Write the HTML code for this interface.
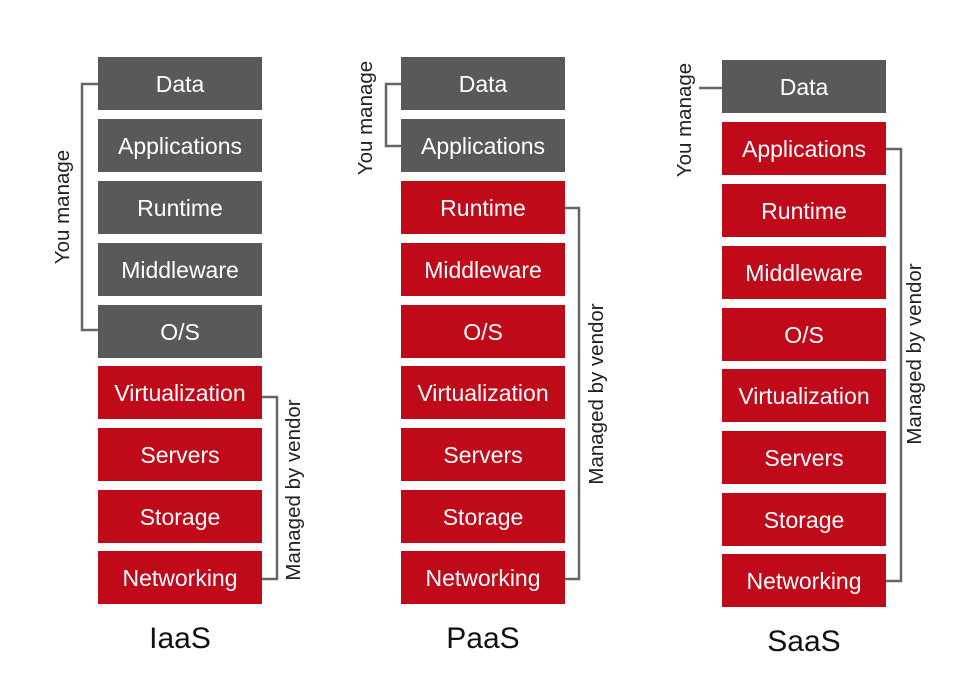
<!DOCTYPE html>
<html><head><meta charset="utf-8"><style>
html,body{margin:0;padding:0;background:#fff;}
svg{display:block;}
text{font-family:"Liberation Sans",sans-serif;}
.b text{fill:#fff;font-size:23px;text-anchor:middle;}
.g{fill:#595959;} .r{fill:#c00a1a;}
.l{fill:none;stroke:#666;stroke-width:2.5;}
.lab{fill:#222;font-size:20.5px;text-anchor:middle;}
.t{fill:#111;font-size:30px;text-anchor:middle;}
</style></head><body>
<svg width="966" height="674" viewBox="0 0 966 674">
<g class="b">
<rect class="g" x="98" y="57" width="164" height="53"/><text x="180" y="92">Data</text>
<rect class="g" x="98" y="119" width="164" height="53"/><text x="180" y="154">Applications</text>
<rect class="g" x="98" y="181" width="164" height="53"/><text x="180" y="216">Runtime</text>
<rect class="g" x="98" y="243" width="164" height="53"/><text x="180" y="278">Middleware</text>
<rect class="g" x="98" y="305" width="164" height="53"/><text x="180" y="340">O/S</text>
<rect class="r" x="98" y="366" width="164" height="53"/><text x="180" y="401">Virtualization</text>
<rect class="r" x="98" y="428" width="164" height="53"/><text x="180" y="463">Servers</text>
<rect class="r" x="98" y="490" width="164" height="53"/><text x="180" y="525">Storage</text>
<rect class="r" x="98" y="551" width="164" height="53"/><text x="180" y="586">Networking</text>
<rect class="g" x="401" y="57" width="164" height="53"/><text x="483" y="92">Data</text>
<rect class="g" x="401" y="119" width="164" height="53"/><text x="483" y="154">Applications</text>
<rect class="r" x="401" y="181" width="164" height="53"/><text x="483" y="216">Runtime</text>
<rect class="r" x="401" y="243" width="164" height="53"/><text x="483" y="278">Middleware</text>
<rect class="r" x="401" y="305" width="164" height="53"/><text x="483" y="340">O/S</text>
<rect class="r" x="401" y="366" width="164" height="53"/><text x="483" y="401">Virtualization</text>
<rect class="r" x="401" y="428" width="164" height="53"/><text x="483" y="463">Servers</text>
<rect class="r" x="401" y="490" width="164" height="53"/><text x="483" y="525">Storage</text>
<rect class="r" x="401" y="551" width="164" height="53"/><text x="483" y="586">Networking</text>
<rect class="g" x="722" y="60" width="164" height="53"/><text x="804" y="95">Data</text>
<rect class="r" x="722" y="122" width="164" height="53"/><text x="804" y="157">Applications</text>
<rect class="r" x="722" y="184" width="164" height="53"/><text x="804" y="219">Runtime</text>
<rect class="r" x="722" y="246" width="164" height="53"/><text x="804" y="281">Middleware</text>
<rect class="r" x="722" y="308" width="164" height="53"/><text x="804" y="343">O/S</text>
<rect class="r" x="722" y="369" width="164" height="53"/><text x="804" y="404">Virtualization</text>
<rect class="r" x="722" y="431" width="164" height="53"/><text x="804" y="466">Servers</text>
<rect class="r" x="722" y="493" width="164" height="53"/><text x="804" y="528">Storage</text>
<rect class="r" x="722" y="554" width="164" height="53"/><text x="804" y="589">Networking</text>
</g>
<path class="l" d="M98 84 H82 V330 H98"/>
<path class="l" d="M262 397 H277 V579 H262"/>
<path class="l" d="M401 84 H386 V146 H401"/>
<path class="l" d="M565 208 H579 V579 H565"/>
<path class="l" d="M699 88 H722"/>
<path class="l" d="M886 149 H901 V581 H886"/>
<text class="lab" transform="translate(69,207) rotate(-90)">You manage</text>
<text class="lab" transform="translate(300,490) rotate(-90)">Managed by vendor</text>
<text class="lab" transform="translate(372,118) rotate(-90)">You manage</text>
<text class="lab" transform="translate(603,394) rotate(-90)">Managed by vendor</text>
<text class="lab" transform="translate(691,120) rotate(-90)">You manage</text>
<text class="lab" transform="translate(921,354) rotate(-90)">Managed by vendor</text>
<text class="t" x="180" y="648">IaaS</text>
<text class="t" x="483" y="648">PaaS</text>
<text class="t" x="804" y="651">SaaS</text>
</svg>
</body></html>
